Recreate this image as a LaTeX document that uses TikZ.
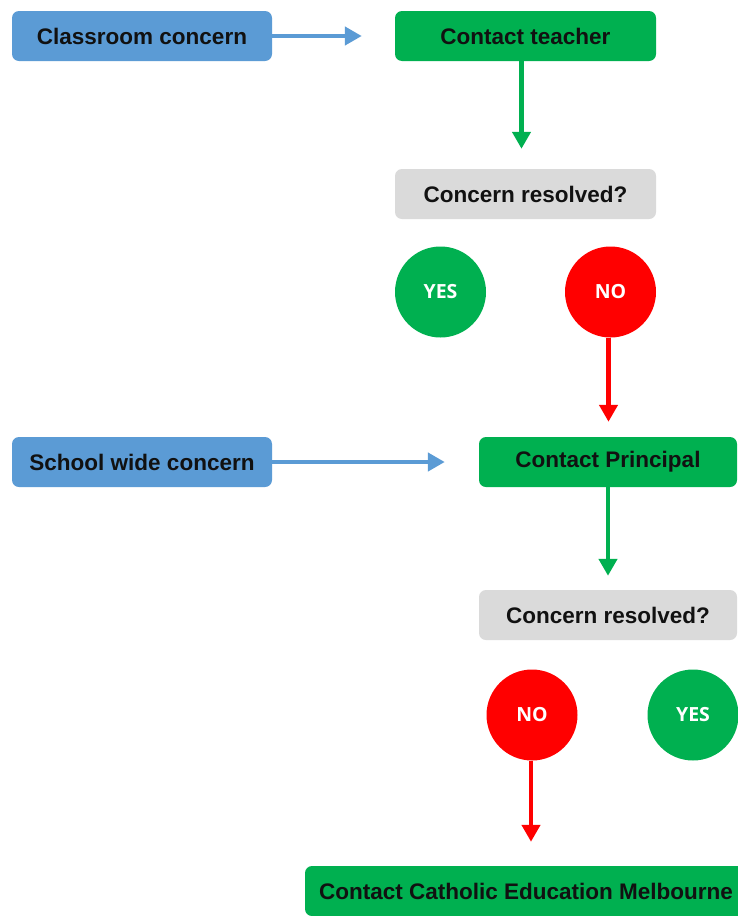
\documentclass[tikz,border=0pt]{standalone}
\usepackage{fontspec}
\setmainfont{Liberation Sans}
\newfontfamily\circfont{Open Sans}
\usetikzlibrary{arrows.meta}
\definecolor{bxblue}{HTML}{5B9BD5}
\definecolor{bxgreen}{HTML}{00B050}
\definecolor{bxgrey}{HTML}{DADADA}
\definecolor{bxred}{HTML}{FF0000}
\definecolor{txt}{HTML}{111111}
\tikzset{
  boxbase/.style={rectangle, rounded corners=7pt, minimum height=50pt, inner sep=0pt,
    font=\bfseries\fontsize{22.5}{26}\selectfont, text=txt},
  bluebox/.style={boxbase, fill=bxblue, minimum width=260pt},
  greenbox/.style={boxbase, fill=bxgreen},
  greybox/.style={boxbase, fill=bxgrey},
  circ/.style={circle, minimum size=91pt, inner sep=0pt, text=white,
    font=\circfont\bfseries\fontsize{19.5}{22}\selectfont},
  yescirc/.style={circ, fill=bxgreen},
  nocirc/.style={circ, fill=bxred},
  conn/.style={line width=4.3pt, -{Triangle[width=18pt,length=17pt]}},
}
\begin{document}
\begin{tikzpicture}[x=1pt,y=-1pt]
\useasboundingbox (0,0) rectangle (737,916);
\fill[white] (0,0) rectangle (737,916);
% top row
\node[bluebox] (cls) at (142,36) {Classroom concern};
\node[greenbox, minimum width=261pt] (ct) at (525.5,36) {Contact teacher};
\node[greybox, minimum width=261pt] (cr1) at (525.5,194) {Concern resolved?};
\node[yescirc] (yes1) at (440.5,292) {YES};
\node[nocirc] (no1) at (610.5,292) {NO};
% middle row
\node[bluebox] (sw) at (142,462) {School wide concern};
\node[greenbox, minimum width=258pt] (cp) at (608,462) {Contact Principal};
\node[greybox, minimum width=258pt] (cr2) at (608,615) {Concern resolved?};
\node[nocirc] (no2) at (532,715) {NO};
\node[yescirc] (yes2) at (693,715) {YES};
% bottom
\node[greenbox, minimum width=442pt] (cem) at (526,891) {Contact Catholic Education Melbourne};
% connectors
\draw[conn, draw=bxblue, shorten >=33pt] (cls.east) -- (ct.west);
\draw[conn, draw=bxgreen, shorten >=20pt] ([xshift=-4pt]ct.south) -- ([xshift=-4pt]cr1.north);
\draw[conn, draw=bxred, shorten >=15pt] ([xshift=-2pt]no1.south) -- ([xshift=-2pt]no1.south |- cp.north);
\draw[conn, draw=bxblue, shorten >=34pt] (sw.east) -- (cp.west);
\draw[conn, draw=bxgreen, shorten >=14pt] (cp.south) -- (cr2.north);
\draw[conn, draw=bxred, shorten >=24pt] ([xshift=-1pt]no2.south) -- ([xshift=-1pt]no2.south |- cem.north);
\end{tikzpicture}
\end{document}
